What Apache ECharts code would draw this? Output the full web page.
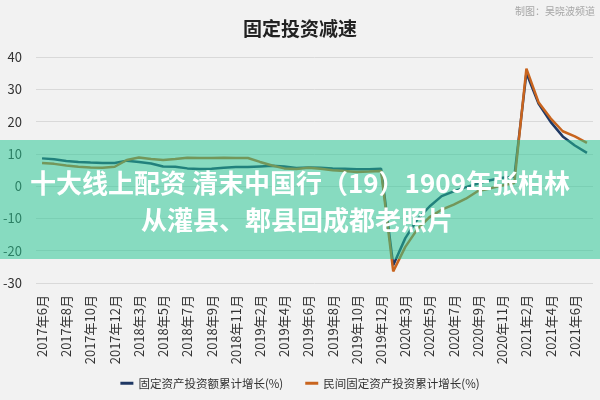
<!DOCTYPE html>
<html>
<head>
<meta charset="utf-8">
<script src="https://cdn.jsdelivr.net/npm/echarts@6/dist/echarts.min.js"></script>
<style>
  html, body { margin: 0; padding: 0; background: #f2f2f2; }
  #chart { width: 600px; height: 400px; }
</style>
</head>
<body>
<div id="chart"></div>
<script>
// Monthly statistics (January merged into February)
const months = [
  '2017年6月','2017年7月','2017年8月','2017年9月','2017年10月','2017年11月','2017年12月',
  '2018年2月','2018年3月','2018年4月','2018年5月','2018年6月','2018年7月','2018年8月','2018年9月','2018年10月','2018年11月','2018年12月',
  '2019年2月','2019年3月','2019年4月','2019年5月','2019年6月','2019年7月','2019年8月','2019年9月','2019年10月','2019年11月','2019年12月',
  '2020年2月','2020年3月','2020年4月','2020年5月','2020年6月','2020年7月','2020年8月','2020年9月','2020年10月','2020年11月','2020年12月',
  '2021年2月','2021年3月','2021年4月','2021年5月','2021年6月','2021年7月'
];

// 固定资产投资额累计增长(%)
const fixedInvest = [
  8.6, 8.3, 7.8, 7.5, 7.3, 7.2, 7.2,
  7.9, 7.5, 7.0, 6.1, 6.0, 5.5, 5.3, 5.4, 5.7, 5.9, 5.9,
  6.1, 6.3, 6.1, 5.6, 5.8, 5.7, 5.5, 5.4, 5.2, 5.2, 5.4,
  -24.5, -16.1, -10.3, -6.3, -3.1, -1.6, -0.3, 0.8, 1.8, 2.6, 2.9,
  35.0, 25.6, 19.9, 15.4, 12.6, 10.3
];

// 民间固定资产投资累计增长(%)
const privateInvest = [
  7.2, 6.9, 6.4, 6.0, 5.8, 5.7, 6.0,
  8.1, 8.9, 8.4, 8.1, 8.4, 8.8, 8.7, 8.7, 8.8, 8.7, 8.7,
  7.5, 6.4, 5.5, 5.3, 5.7, 5.4, 4.9, 4.7, 4.4, 4.5, 4.7,
  -26.4, -18.8, -13.3, -9.6, -7.3, -5.7, -3.9, -1.5, -0.7, 0.2, 1.0,
  36.4, 26.0, 21.0, 17.0, 15.4, 13.4
];

const seriesNames = ['固定资产投资额累计增长(%)', '民间固定资产投资累计增长(%)'];
const yTicks = { min: -30, max: 40, step: 10 };

const FONT = '"Noto Sans CJK SC", "Noto Sans", sans-serif';

const chart = echarts.init(document.getElementById('chart'), null, { renderer: 'canvas' });

chart.setOption({
  backgroundColor: '#f2f2f2',
  animation: false,
  textStyle: { fontFamily: FONT },
  title: {
    text: '固定投资减速',
    left: 'center',
    top: 14,
    textStyle: { fontSize: 19, fontWeight: 'bold', color: '#222', fontFamily: FONT }
  },
  legend: {
    bottom: 6,
    left: 'center',
    icon: 'rect',
    itemWidth: 13,
    itemHeight: 3,
    itemGap: 22,
    textStyle: { fontSize: 11.5, color: '#333', fontFamily: FONT },
    data: seriesNames
  },
  grid: { left: 36, right: 7, top: 57, bottom: 117 },
  xAxis: {
    type: 'category',
    data: months,
    boundaryGap: true,
    axisLine: { show: false },
    axisTick: { show: false },
    axisLabel: { rotate: 90, interval: 1, fontSize: 13, color: '#333', margin: 12, fontFamily: FONT }
  },
  yAxis: {
    type: 'value',
    min: yTicks.min,
    max: yTicks.max,
    interval: yTicks.step,
    axisLine: { show: false },
    axisTick: { show: false },
    splitLine: { lineStyle: { color: '#d9d9d9', width: 1 } },
    axisLabel: { fontSize: 13, color: '#333', margin: 14, fontFamily: FONT }
  },
  series: [
    {
      name: seriesNames[0],
      type: 'line',
      data: fixedInvest,
      showSymbol: false,
      symbol: 'none',
      lineStyle: { width: 2.5, color: '#1f3864' },
      itemStyle: { color: '#1f3864' }
    },
    {
      name: seriesNames[1],
      type: 'line',
      data: privateInvest,
      showSymbol: false,
      symbol: 'none',
      lineStyle: { width: 2.5, color: '#c8641e' },
      itemStyle: { color: '#c8641e' }
    }
  ],
  graphic: [
    {
      type: 'text',
      right: 5,
      top: 6,
      style: { text: '制图：吴晓波频道', fontSize: 10, fill: '#a6a6a6', fontFamily: FONT }
    },
    {
      type: 'rect',
      z: 100,
      shape: { x: 0, y: 140, width: 600, height: 119 },
      style: { fill: 'rgba(36,198,146,0.52)' }
    },
    {
      type: 'text',
      z: 101,
      x: 300,
      y: 183,
      style: {
        text: '十大线上配资 清末中国行（19）1909年张柏林',
        fontSize: 26,
        fontWeight: 'bold',
        fill: '#ffffff',
        align: 'center',
        verticalAlign: 'middle',
        fontFamily: FONT
      }
    },
    {
      type: 'text',
      z: 101,
      x: 297,
      y: 220,
      style: {
        text: '从灌县、郫县回成都老照片',
        fontSize: 26,
        fontWeight: 'bold',
        fill: '#ffffff',
        align: 'center',
        verticalAlign: 'middle',
        fontFamily: FONT
      }
    }
  ]
});
</script>
</body>
</html>
